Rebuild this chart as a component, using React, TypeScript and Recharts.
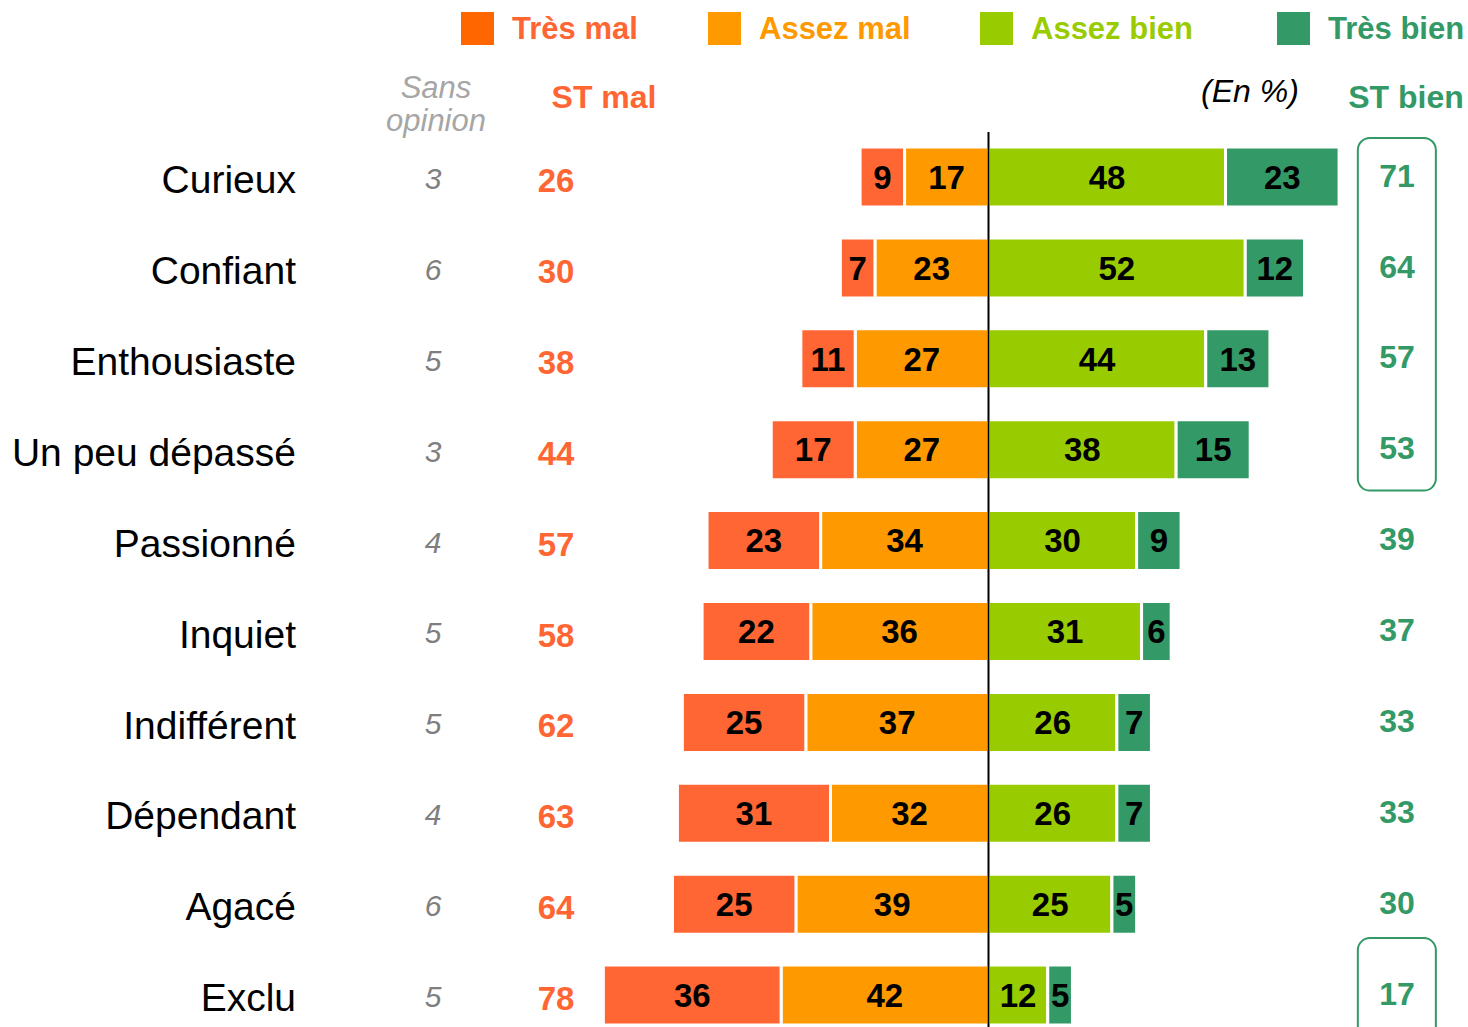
import {
  BarChart,
  Bar,
  XAxis,
  YAxis,
  LabelList,
  ReferenceLine,
  ReferenceArea,
} from "recharts";

const names = [
  "Curieux",
  "Confiant",
  "Enthousiaste",
  "Un peu dépassé",
  "Passionné",
  "Inquiet",
  "Indifférent",
  "Dépendant",
  "Agacé",
  "Exclu",
];
const sansOpinion = [3, 6, 5, 3, 4, 5, 5, 4, 6, 5];
const stMal = [26, 30, 38, 44, 57, 58, 62, 63, 64, 78];
const tresMal = [9, 7, 11, 17, 23, 22, 25, 31, 25, 36];
const assezMal = [17, 23, 27, 27, 34, 36, 37, 32, 39, 42];
const assezBien = [48, 52, 44, 38, 30, 31, 26, 26, 25, 12];
const tresBien = [23, 12, 13, 15, 9, 6, 7, 7, 5, 5];
const stBien = [71, 64, 57, 53, 39, 37, 33, 33, 30, 17];

const ORANGE_RED = "#FF6633";
const ORANGE = "#FF9900";
const LIME = "#99CC00";
const GREEN = "#339966";
const FONT = '"Liberation Sans", Arial, sans-serif';

const legendItems = [
  { label: "Très mal", square: "#FF6600", text: ORANGE_RED, left: 461 },
  { label: "Assez mal", square: ORANGE, text: ORANGE, left: 708 },
  { label: "Assez bien", square: LIME, text: LIME, left: 980 },
  { label: "Très bien", square: GREEN, text: GREEN, left: 1277 },
];

const rows = names.map((name, i) => ({
  name,
  tresMal: -tresMal[i],
  assezMal: -assezMal[i],
  assezBien: assezBien[i],
  tresBien: tresBien[i],
}));

const abs = (v: any) => Math.abs(Number(v));

const RowTick = ({ y, payload }: any) => {
  const i = payload.index;
  return (
    <g>
      <text x={296} y={y + 2} dy="0.35em" textAnchor="end" fontSize={39} fill="#000">
        {payload.value}
      </text>
      <text x={433} y={y + 1} dy="0.35em" textAnchor="middle" fontSize={30} fontStyle="italic" fill="#7F7F7F">
        {sansOpinion[i]}
      </text>
      <text x={556} y={y + 3} dy="0.35em" textAnchor="middle" fontSize={33} fontWeight="bold" fill={ORANGE_RED}>
        {stMal[i]}
      </text>
      <text x={1397} y={y - 2} dy="0.35em" textAnchor="middle" fontSize={32} fontWeight="bold" fill={GREEN}>
        {stBien[i]}
      </text>
    </g>
  );
};

const boxShape = (topPad: number, bottomPad: number) => (p: any) => (
  <rect
    x={p.x}
    y={p.y + topPad}
    width={p.width}
    height={p.height - topPad + bottomPad}
    rx={12}
    fill="none"
    stroke={GREEN}
    strokeWidth={2}
  />
);

const labelProps = { fill: "#000", fontSize: 33, fontWeight: "bold" as const };

const header = (text: string, x: number, y: number, style: any) => (
  <div
    style={{
      position: "absolute",
      left: x,
      top: y,
      transform: "translate(-50%, -50%)",
      whiteSpace: "nowrap",
      lineHeight: 0.9,
      fontSize: 32,
      ...style,
    }}
  >
    {text}
  </div>
);

export default function App() {
  return (
    <div
      style={{
        position: "absolute",
        left: 0,
        top: 0,
        width: 1468,
        height: 1027,
        overflow: "hidden",
        background: "#fff",
        fontFamily: FONT,
      }}
    >
      {legendItems.map((it) => (
        <div
          key={it.label}
          style={{ position: "absolute", left: it.left, top: 12, display: "flex", alignItems: "center" }}
        >
          <div style={{ width: 33, height: 33, background: it.square, marginRight: 18 }} />
          <span style={{ fontSize: 31, fontWeight: "bold", color: it.text, lineHeight: 1 }}>{it.label}</span>
        </div>
      ))}

      {header("Sans", 436, 88, { color: "#A6A6A6", fontStyle: "italic", fontSize: 31 })}
      {header("opinion", 436, 121, { color: "#A6A6A6", fontStyle: "italic", fontSize: 31 })}
      {header("ST mal", 604, 97, { color: ORANGE_RED, fontWeight: "bold" })}
      {header("(En %)", 1250, 91, { color: "#000", fontStyle: "italic" })}
      {header("ST bien", 1406, 97, { color: GREEN, fontWeight: "bold" })}

      <BarChart
        layout="vertical"
        width={1468}
        height={1041}
        data={rows}
        stackOffset="sign"
        barSize={60}
        margin={{ top: 132, right: 4, bottom: 0, left: 0 }}
      >
        <XAxis type="number" domain={[-80.3, 96.3]} hide allowDataOverflow />
        <YAxis
          type="category"
          dataKey="name"
          width={592}
          axisLine={false}
          tickLine={false}
          interval={0}
          tick={<RowTick />}
        />
        <Bar dataKey="assezMal" stackId="a" fill={ORANGE} stroke="#fff" strokeWidth={3} isAnimationActive={false}>
          <LabelList dataKey="assezMal" position="center" formatter={abs} {...labelProps} />
        </Bar>
        <Bar dataKey="tresMal" stackId="a" fill={ORANGE_RED} stroke="#fff" strokeWidth={3} isAnimationActive={false}>
          <LabelList dataKey="tresMal" position="center" formatter={abs} {...labelProps} />
        </Bar>
        <Bar dataKey="assezBien" stackId="a" fill={LIME} stroke="#fff" strokeWidth={3} isAnimationActive={false}>
          <LabelList dataKey="assezBien" position="center" formatter={abs} {...labelProps} />
        </Bar>
        <Bar dataKey="tresBien" stackId="a" fill={GREEN} stroke="#fff" strokeWidth={3} isAnimationActive={false}>
          <LabelList dataKey="tresBien" position="center" formatter={abs} {...labelProps} />
        </Bar>
        <ReferenceLine x={0} stroke="#000" strokeWidth={2} />
        <ReferenceArea
          x1={74.8}
          x2={90.6}
          y1="Curieux"
          y2="Un peu dépassé"
          shape={boxShape(6, -5)}
        />
        <ReferenceArea x1={74.8} x2={90.6} y1="Exclu" y2="Exclu" shape={boxShape(-12, 0)} />
      </BarChart>
    </div>
  );
}
